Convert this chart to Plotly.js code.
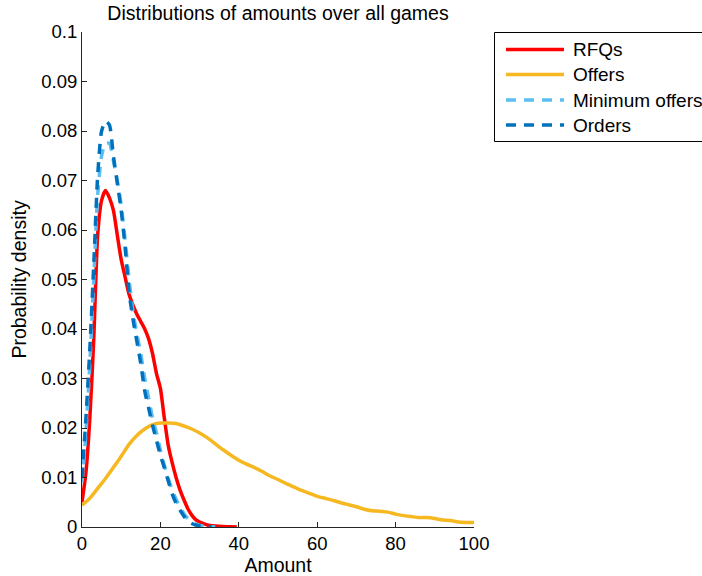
<!DOCTYPE html>
<html>
<head>
<meta charset="utf-8">
<script src="https://cdn.plot.ly/plotly-3.0.1.min.js"></script>
<style>html,body{margin:0;padding:0;background:#fff;}#chart{width:702px;height:576px;}</style>
</head>
<body>
<div id="chart"></div>
<script>
// RFQs
var rfqX = [0,1,2,3,4,5,6,7,8,9,10,11,12,13,14,15,16,17,18,19,20,21,22,23,24,25,26,27,28,29,30,31,32,34,36,38,39.5];
var rfqY = [0.005,0.011,0.022,0.038,0.059,0.066,0.068,0.0665,0.064,0.059,0.054,0.0505,0.047,0.0448,0.043,0.0415,0.0400,0.038,0.035,0.031,0.028,0.022,0.0165,0.013,0.010,0.0075,0.0055,0.0037,0.0024,0.0015,0.0010,0.0007,0.0004,0.0002,0.0001,0.00005,0];
// Offers
var offX = [0,2,4,6,8,10,12,14,16,18,20,22,24,26,28,30,32,34,36,38,40,42,44,46,48,50,52,54,56,58,60,62,64,66,68,70,72,74,76,78,80,82,84,86,88,90,92,94,96,98,100];
var offY = [0.0044,0.0058,0.0078,0.0098,0.0120,0.0143,0.0167,0.0185,0.0198,0.0207,0.0210,0.0210,0.0209,0.0204,0.0198,0.0190,0.0180,0.0168,0.0156,0.0145,0.0135,0.0127,0.0120,0.0112,0.0103,0.0096,0.0088,0.0081,0.0074,0.0068,0.0062,0.0058,0.0054,0.0049,0.0045,0.0041,0.0036,0.0033,0.0032,0.0030,0.0026,0.0023,0.0021,0.0019,0.0019,0.0017,0.0014,0.0013,0.0010,0.0009,0.0009];
// Minimum offers
var minX = [0,1,2,3,4,5,6,7,8,9,10,11,12,13,14,15,16,17,18,19,20,21,22,23,24,25,26,27,28,29,30,31,32,33,34];
var minY = [0.009,0.019,0.033,0.050,0.067,0.075,0.0775,0.0775,0.074,0.070,0.065,0.058,0.050,0.0435,0.039,0.035,0.030,0.026,0.022,0.019,0.0155,0.0125,0.0098,0.0075,0.0056,0.0040,0.0027,0.0017,0.0010,0.0006,0.0003,0.00015,0.00008,0.00003,0];
// Orders
var ordX = [0,1,2,3,4,5,6,7,8,9,10,11,12,13,14,15,16,17,18,19,20,21,22,23,24,25,26,27,28,29,30,31,32,33];
var ordY = [0.010,0.022,0.036,0.053,0.071,0.080,0.082,0.0812,0.075,0.0695,0.064,0.0565,0.0475,0.042,0.0375,0.033,0.0275,0.024,0.0205,0.0175,0.0145,0.012,0.0093,0.0067,0.0048,0.0034,0.0022,0.0012,0.0007,0.0004,0.0002,0.0001,0.00005,0];

var seriesNames = ['RFQs','Offers','Minimum offers','Orders'];
var colors = ['#FF0000','#F5B820','#5BBEF2','#0072BD'];
var dashes = ['solid','solid','10px,8px','10px,8px'];
var FONT = 'Liberation Sans, Arial, Helvetica, sans-serif';

var xs = [rfqX, offX, minX, ordX];
var ys = [rfqY, offY, minY, ordY];
var traces = [];
for (var i = 0; i < 4; i++) {
  traces.push({x: xs[i], y: ys[i], type: 'scatter', mode: 'lines', name: seriesNames[i],
    line: {color: colors[i], width: 3.5, dash: dashes[i], shape: 'spline', smoothing: 0.6},
    showlegend: false, hoverinfo: 'skip'});
}

// manual legend (MATLAB-like box)
var L = 82, W = 392, T = 32, H = 495;
function px(p){ return (p - L) / W; }
function py(p){ return 1 - (p - T) / H; }
var shapes = [{type:'rect', xref:'paper', yref:'paper', x0:px(494.5), x1:px(710), y0:py(32.5), y1:py(141.5),
  line:{color:'#000', width:1}, fillcolor:'#fff', layer:'above'}];
var annotations = [];
var rowY = [49.5, 74.5, 100, 125];
for (var j = 0; j < 4; j++) {
  shapes.push({type:'line', xref:'paper', yref:'paper', x0:px(506), x1:px(564), y0:py(rowY[j]), y1:py(rowY[j]),
    line:{color: colors[j], width: 3.5, dash: dashes[j]}, layer:'above'});
  annotations.push({xref:'paper', yref:'paper', x:px(571), y:py(rowY[j]), xanchor:'left', yanchor:'middle',
    text: seriesNames[j], showarrow:false, font:{family:FONT, size:19, color:'#000'}});
}

var layout = {
  width: 702, height: 576,
  margin: {l: 82, r: 228, t: 32, b: 49, pad: 0},
  paper_bgcolor: '#fff', plot_bgcolor: '#fff',
  font: {family: FONT, size: 18, color: '#000'},
  title: {text: 'Distributions of amounts over all games', x: 0.5, xref: 'paper', xanchor: 'center',
    y: 1 - 13/576, yref: 'container', yanchor: 'middle', font: {family: FONT, size: 19.5, color: '#000'}},
  xaxis: {range: [0, 100], tickvals: [0,20,40,60,80,100], ticks: 'inside', ticklen: 5, tickcolor: '#262626',
    showline: true, linecolor: '#262626', linewidth: 1, showgrid: false, zeroline: false,
    tickfont: {family: FONT, size: 18.5, color: '#000'},
    title: {text: 'Amount', font: {family: FONT, size: 19.5, color: '#000'}, standoff: 2}},
  yaxis: {range: [0, 0.1], dtick: 0.01, tick0: 0, ticks: 'inside', ticklen: 5, tickcolor: '#262626',
    showline: true, linecolor: '#262626', linewidth: 1, showgrid: false, zeroline: false,
    tickfont: {family: FONT, size: 18.5, color: '#000'},
    title: {text: 'Probability density', font: {family: FONT, size: 19.5, color: '#000'}, standoff: 9}},
  shapes: shapes,
  annotations: annotations,
  showlegend: false
};

Plotly.newPlot('chart', traces, layout, {staticPlot: true, displayModeBar: false});
</script>
</body>
</html>
